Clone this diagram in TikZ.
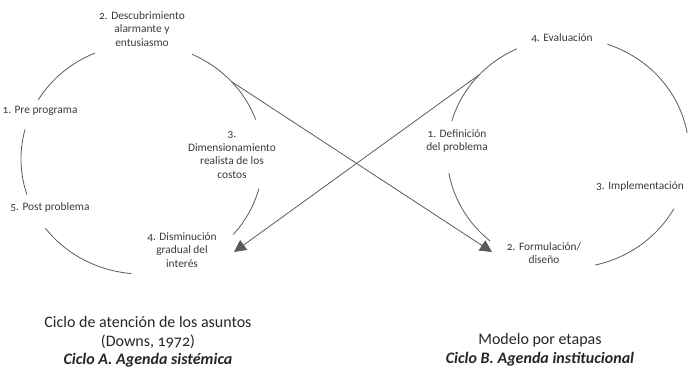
\documentclass[tikz,border=0pt]{standalone}
\usepackage{fontspec}
\setmainfont{Carlito}[Numbers=OldStyle]
\usetikzlibrary{arrows.meta}
\definecolor{linegray}{HTML}{5A5A5A}
\definecolor{txtgray}{HTML}{3A3A3A}
\tikzset{
  arcline/.style={draw=linegray, line width=0.8pt},
  conn/.style={draw=linegray, line width=0.8pt, -{Triangle[length=12pt,width=12pt]}},
  lbl/.style={text=txtgray, font=\fontsize{11.4}{13.4}\selectfont, align=center, inner sep=0pt},
  ttl/.style={text=black!85, font=\fontsize{16}{18.5}\selectfont, align=center, inner sep=0pt},
}
\begin{document}
\begin{tikzpicture}[x=1pt,y=-1pt]
\useasboundingbox (0,0) rectangle (688,369);
% left cycle (ellipse centre 142,159; rx 121, ry 115)
\def\lcx{142}\def\lcy{159}
\foreach \a/\b in {211/247, 162/195, 95/143, -65.5/-20, 15/41}{
  \draw[arcline] plot[domain=\a:\b, samples=40, smooth] ({\lcx+121*cos(\x)},{\lcy+115*sin(\x)});
}
% right cycle (ellipse centre 568,153; rx 121, ry 115)
\def\rcx{568}\def\rcy{153}
\foreach \a/\b in {196/245, 130/170, -71/-10, 29/77}{
  \draw[arcline] plot[domain=\a:\b, samples=40, smooth] ({\rcx+121*cos(\x)},{\rcy+115*sin(\x)});
}
% labels left
\node[lbl] (l2) at (142,29) {2. Descubrimiento\\alarmante y\\entusiasmo};
\node[lbl] (l1) at (40,111) {1. Pre programa};
\node[lbl] (l3) at (232,155) {3.\\Dimensionamiento\\realista de los\\costos};
\node[lbl] (l5) at (50,207) {5. Post problema};
\node[lbl] (l4) at (182,250) {4. Disminución\\gradual del\\interés};
% labels right
\node[lbl] (r4) at (562,38) {4. Evaluación};
\node[lbl] (r1) at (457,141) {1. Definición\\del problema};
\node[lbl] (r3) at (640,186) {3. Implementación};
\node[lbl] (r2) at (544,253) {2. Formulación/\\diseño};
% titles
\node[ttl] (ta) at (148,342) {Ciclo de atención de los asuntos\\(Downs, 1972)\\\textbf{\textit{Ciclo A. Agenda sistémica}}};
\node[ttl] (tb) at (540,350) {Modelo por etapas\\\textbf{\textit{Ciclo B. Agenda institucional}}};
% connectors
\coordinate (ja) at ({\lcx+121*cos(-42.4)},{\lcy+115*sin(-42.4)});
\coordinate (jb) at ({\rcx+121*cos(223.1)},{\rcy+115*sin(223.1)});
\coordinate (ta1) at (492,252);
\coordinate (tb1) at (234,252);
\draw[conn] (ja) -- (ta1);
\draw[conn] (jb) -- (tb1);
\end{tikzpicture}
\end{document}
